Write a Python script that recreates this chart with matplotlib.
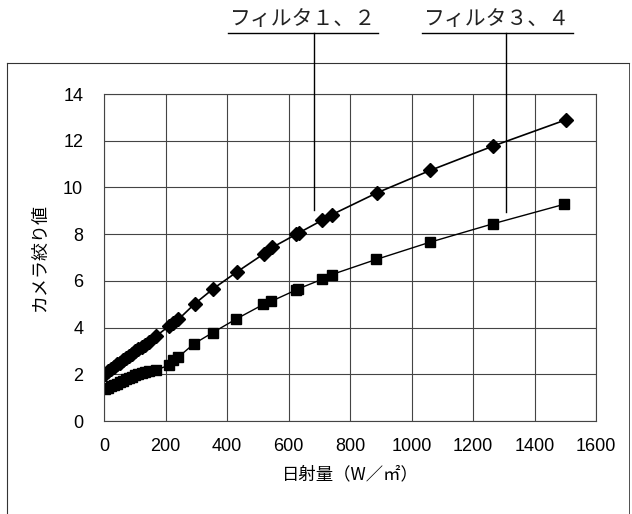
import matplotlib
matplotlib.use('Agg')
import matplotlib.pyplot as plt
from matplotlib.lines import Line2D

plt.rcParams['font.family'] = ['Noto Sans CJK JP', 'DejaVu Sans']

# filter 1,2 (diamonds)
x_f12 = [3, 12, 22, 32, 42, 52, 62, 72, 82, 92, 102, 112, 122, 132, 146,
         168, 210, 226, 242, 296, 356, 432, 519, 547, 626, 633, 710, 742,
         888, 1061, 1265, 1503]
y_f12 = [2.02, 2.12, 2.22, 2.32, 2.42, 2.5, 2.6, 2.7, 2.8, 2.88, 2.98, 3.08,
         3.18, 3.26, 3.4, 3.62, 4.05, 4.2, 4.35, 5.03, 5.67, 6.38, 7.15, 7.43,
         8.0, 8.05, 8.6, 8.84, 9.77, 10.73, 11.77, 12.9]

# filter 3,4 (squares)
x_f34 = [3, 12, 22, 32, 42, 52, 62, 72, 82, 92, 102, 112, 122, 132, 146,
         168, 210, 226, 242, 292, 353, 429, 518, 543, 623, 630, 708, 741,
         886, 1059, 1264, 1497]
y_f34 = [1.38, 1.43, 1.48, 1.54, 1.6, 1.66, 1.72, 1.78, 1.84, 1.9, 1.96, 2.02,
         2.06, 2.1, 2.14, 2.18, 2.38, 2.6, 2.74, 3.3, 3.78, 4.36, 4.99, 5.12,
         5.6, 5.65, 6.06, 6.27, 6.92, 7.65, 8.44, 9.28]

x_ticks = [0, 200, 400, 600, 800, 1000, 1200, 1400, 1600]
y_ticks = [0, 2, 4, 6, 8, 10, 12, 14]

W, H = 632, 514


def fx(px):
    return px / W


def fy(py):
    return 1 - py / H


fig = plt.figure(figsize=(6.32, 5.14), dpi=100)
ax = fig.add_axes([fx(104), fy(421), fx(596) - fx(104), fy(94) - fy(421)])

ax.plot(x_f12, y_f12, color='black', lw=1.2, marker='D', ms=7,
        mfc='black', mec='black')
ax.plot(x_f34, y_f34, color='black', lw=1.0, marker='s', ms=6.5,
        mfc='black', mec='black')

ax.set_xlim(0, 1600)
ax.set_ylim(0, 14)
ax.set_xticks(x_ticks)
ax.set_yticks(y_ticks)
ax.grid(True, color='#444444', lw=0.8)
ax.set_axisbelow(True)
for s in ax.spines.values():
    s.set_color('#444444')
    s.set_linewidth(0.8)

tick_font = ['Liberation Sans Narrow', 'Liberation Sans']
ax.tick_params(length=0, pad=12)
for lbl in ax.get_xticklabels() + ax.get_yticklabels():
    lbl.set_family(tick_font)
    lbl.set_fontsize(13)
ax.tick_params(axis='y', pad=15)

ax.set_xlabel('日射量（W／㎡）', fontsize=12.5, labelpad=8)
ax.set_ylabel('カメラ絞り値', fontsize=13, labelpad=10)

# outer frame
frame_col = '#333333'
fig.add_artist(Line2D([fx(7), fx(629)], [fy(63), fy(63)], color=frame_col, lw=0.8))
fig.add_artist(Line2D([fx(7), fx(7)], [fy(63), fy(514)], color=frame_col, lw=0.8))
fig.add_artist(Line2D([fx(629), fx(629)], [fy(63), fy(514)], color=frame_col, lw=0.6))

# series labels with leader lines
labels = ['フィルタ１、２', 'フィルタ３、４']
label_spans = [(228, 378), (422, 573)]
leader_x = [314, 506]
leader_end = [210, 212]
for txt, (x0, x1), lx, ly in zip(labels, label_spans, leader_x, leader_end):
    fig.text(fx((x0 + x1) / 2), fy(30), txt, ha='center', va='bottom',
             fontsize=15, color='#222222')
    fig.add_artist(Line2D([fx(x0), fx(x1)], [fy(33), fy(33)], color='black', lw=1.0))
    fig.add_artist(Line2D([fx(lx), fx(lx)], [fy(33), fy(ly)], color='black', lw=1.0))

fig.savefig('out.png', dpi=100)
